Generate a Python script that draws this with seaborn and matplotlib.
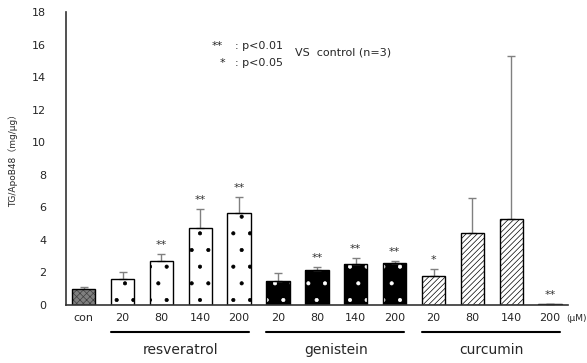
import matplotlib
matplotlib.use("Agg")
import matplotlib.pyplot as plt
import seaborn as sns
import pandas as pd
import numpy as np
from matplotlib.patches import Rectangle

sns.set_theme(style="white")
plt.rcParams['font.family'] = ['DejaVu Sans', 'Noto Sans CJK JP']
plt.rcParams['hatch.linewidth'] = 0.5

# ---- data ----
tick_labels = ["con", "20", "80", "140", "200", "20", "80", "140", "200", "20", "80", "140", "200"]
groups = ["control", "resveratrol", "resveratrol", "resveratrol", "resveratrol",
          "genistein", "genistein", "genistein", "genistein",
          "curcumin", "curcumin", "curcumin", "curcumin"]
means = [1.0, 1.6, 2.7, 4.7, 5.65, 1.5, 2.15, 2.5, 2.55, 1.8, 4.4, 5.25, 0.03]
errors = [0.1, 0.4, 0.4, 1.2, 1.0, 0.45, 0.2, 0.4, 0.15, 0.4, 2.15, 10.05, 0.0]
stars = ["", "", "**", "**", "**", "", "**", "**", "**", "*", "", "", "**"]
group_names = ["resveratrol", "genistein", "curcumin"]

df = pd.DataFrame({"label": [f"{g}_{i}" for i, g in enumerate(groups)],
                   "value": means})

fig = plt.figure(figsize=(5.87, 3.63), dpi=100)
ax = fig.add_axes([0.112, 0.16, 0.855, 0.807])

sns.barplot(data=df, x="label", y="value", ax=ax, width=0.6,
            color="white", edgecolor="black", linewidth=1.0, saturation=1)

styles = []
for g in groups:
    if g == "control":
        styles.append(dict(fc="#7f7f7f", hatch="xxxxx", hc="#404040"))
    elif g == "resveratrol":
        styles.append(dict(fc="white", hatch=".", hc="black"))
    elif g == "genistein":
        styles.append(dict(fc="black", hatch=".", hc="white"))
    else:
        styles.append(dict(fc="white", hatch="//////", hc="black"))

for p, st in zip(ax.patches, styles):
    p.set_facecolor(st["fc"])
    p.set_hatch(st["hatch"])
    p.set_edgecolor(st["hc"])
    p.set_linewidth(0)
    outline = Rectangle(p.get_xy(), p.get_width(), p.get_height(),
                        fill=False, edgecolor="black", linewidth=1.0, zorder=p.get_zorder() + 0.1)
    ax.add_patch(outline)

x = np.arange(len(means))
ax.errorbar(x, means, yerr=[np.zeros(len(errors)), errors], fmt="none",
            ecolor="#808080", elinewidth=1.0, capsize=3, capthick=1.0, zorder=1)

for xi, m, e, s in zip(x, means, errors, stars):
    if s:
        ax.text(xi, m + e + 0.25, s, ha="center", va="bottom", fontsize=8, color="#333333")

ax.set_ylim(0, 18)
ax.set_yticks(range(0, 19, 2))
ax.set_xlim(-0.46, 12.45)
ax.set_xticks(x)
ax.set_xticklabels(tick_labels, fontsize=8)
ax.tick_params(axis="y", labelsize=8, length=0, pad=14)
ax.tick_params(axis="x", length=0, pad=6)
ax.set_xlabel("")
ax.set_ylabel("TG/ApoB48（mg/μg）", fontsize=6.5, labelpad=10)

for s in ["top", "right"]:
    ax.spines[s].set_visible(False)
for s in ["left", "bottom"]:
    ax.spines[s].set_color("#333333")
    ax.spines[s].set_linewidth(1.2)

trans = ax.get_xaxis_transform()
ax.text(12.42, -0.045, "(μM)", transform=trans, fontsize=6.5, ha="left", va="center",
        clip_on=False)

# group underline and names
for gi, name in enumerate(group_names):
    start = 1 + gi * 4
    ax.plot([start - 0.3, start + 3.25], [-0.092, -0.092], transform=trans,
            color="black", lw=1.5, clip_on=False)
    ax.text(start + 1.5, -0.154, name, transform=trans, ha="center", va="center",
            fontsize=10, clip_on=False)

ax.text(3.3, 15.9, "**", fontsize=8, ha="left", va="center")
ax.text(3.9, 15.9, ": p<0.01", fontsize=8, ha="left", va="center")
ax.text(3.58, 14.85, "*", fontsize=8, ha="center", va="center")
ax.text(3.9, 14.85, ": p<0.05", fontsize=8, ha="left", va="center")
ax.text(5.44, 15.5, "VS  control (n=3)", fontsize=8, ha="left", va="center")

fig.savefig("out.png", dpi=100)
